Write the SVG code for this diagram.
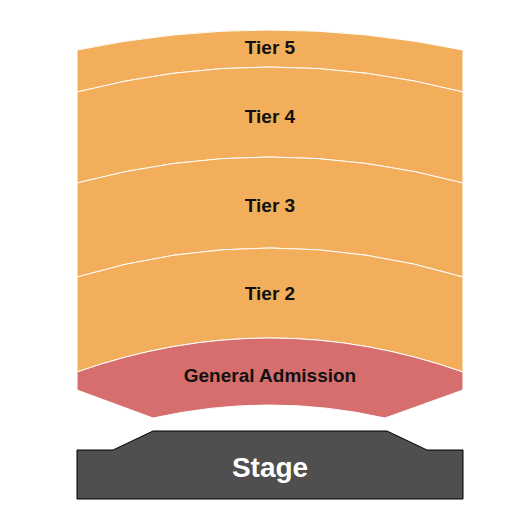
<svg xmlns="http://www.w3.org/2000/svg" width="525" height="525" viewBox="0 0 525 525">
<style>
.tier{fill:#F3AE5B;stroke:#FFFFFF;stroke-width:1}
.ga{fill:#D66E6E;stroke:#FFFFFF;stroke-width:1}
.stage{fill:#4F4F4F;stroke:#000000;stroke-width:1}
.lbl{font-family:"Liberation Sans",Arial,sans-serif;font-weight:bold;font-size:19px;fill:#111111;text-anchor:middle}
.slbl{font-family:"Liberation Sans",Arial,sans-serif;font-weight:bold;font-size:28px;fill:#FFFFFF;text-anchor:middle}
</style>
<rect width="525" height="525" fill="#FFFFFF"/>
<g id="tier5">
<path class="tier" d="M77,50 Q270,10 463,50 L463,92 Q270,42 77,92 Z"/>
<text class="lbl" x="270" y="54">Tier 5</text>
</g>
<g id="tier4">
<path class="tier" d="M77,92 Q270,42 463,92 L463,183 Q270,131 77,183 Z"/>
<text class="lbl" x="270" y="123">Tier 4</text>
</g>
<g id="tier3">
<path class="tier" d="M77,183 Q270,131 463,183 L463,277 Q270,219 77,277 Z"/>
<text class="lbl" x="270" y="212">Tier 3</text>
</g>
<g id="tier2">
<path class="tier" d="M77,277 Q270,219 463,277 L463,372 Q270,304 77,372 Z"/>
<text class="lbl" x="270" y="300">Tier 2</text>
</g>
<g id="general-admission">
<path class="ga" d="M77,372 Q270,304 463,372 L463,390 L385,418 Q270,392 153,418 L77,390 Z"/>
<text class="lbl" x="270" y="382">General Admission</text>
</g>
<g id="stage">
<path class="stage" d="M77,450 L113,450 L153,431 L387,431 L427,450 L463,450 L463,499 L77,499 Z"/>
<text class="slbl" x="270" y="477">Stage</text>
</g>
<g id="connectors"/>
</svg>
